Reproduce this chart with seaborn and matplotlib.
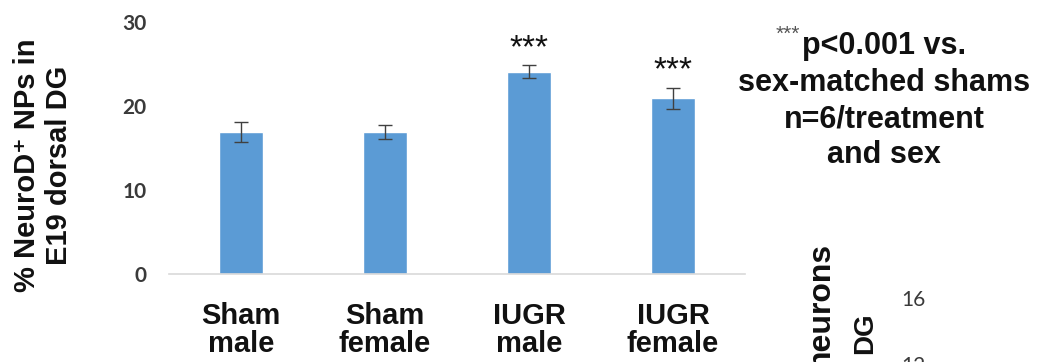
import matplotlib
matplotlib.use("Agg")
import matplotlib.pyplot as plt
import seaborn as sns
import pandas as pd

# Group means and SEM for NeuroD+ neural progenitors in E19 dorsal DG
groups = ["Sham\nmale", "Sham\nfemale", "IUGR\nmale", "IUGR\nfemale"]
means = [16.9, 16.9, 24.1, 20.9]
sems = [1.2, 0.8, 0.8, 1.3]
stars = ["", "", "***", "***"]
y_ticks = [0, 10, 20, 30]

sns.set_theme(style="white")
plt.rcParams["font.family"] = ["Liberation Sans", "DejaVu Sans"]

BAR_BLUE = "#5B9BD5"
px = 1 / 362  # one pixel in figure height units

fig = plt.figure(figsize=(10.38, 3.62), dpi=100)
ax = fig.add_axes([0.1628, 0.2431, 0.5549, 0.6961])

df = pd.DataFrame({"group": groups, "mean": means})
sns.barplot(data=df, x="group", y="mean", color=BAR_BLUE, width=0.3,
            saturation=1, ax=ax, errorbar=None)
ax.errorbar(range(len(groups)), means, yerr=sems, fmt="none",
            ecolor="#404040", elinewidth=1.0, capsize=5, capthick=1.0)

for i, (m, e, s) in enumerate(zip(means, sems, stars)):
    if s:
        ax.text(i, m + e + 0.1, s, ha="center", va="bottom",
                fontsize=24, color="#111111")

ax.set_ylim(0, 30)
ax.set_xlim(-0.5, len(groups) - 0.5)
ax.set_yticks(y_ticks)
ax.set_yticklabels([str(t) for t in y_ticks], fontsize=15,
                   fontweight="bold", color="#3A3A3A", family="Lato")
ax.tick_params(axis="y", length=0, pad=16)
ax.tick_params(axis="x", length=0, pad=20)
for lbl in ax.get_xticklabels():
    lbl.set_fontsize(21)
    lbl.set_fontweight("bold")
    lbl.set_color("#111111")
    lbl.set_linespacing(1.0)
ax.set_xlabel("")
ax.set_ylabel("")
for side in ("top", "right", "left"):
    ax.spines[side].set_visible(False)
ax.spines["bottom"].set_color("#D9D9D9")
ax.spines["bottom"].set_linewidth(1.2)

fig.text(43 / 1038, 1 - 165 * px, "% NeuroD\u207a NPs in\nE19 dorsal DG",
         rotation=90, ha="center", va="center", fontsize=21,
         fontweight="bold", color="#111111", linespacing=1.15)

# Significance note
fig.text(800 / 1038, 1 - 34 * px, "***", ha="right", va="center",
         fontsize=15, color="#555555")
fig.text(802 / 1038, 1 - 46 * px, "p<0.001 vs.", ha="left", va="center",
         fontsize=22, fontweight="bold", color="#111111")
fig.text(884 / 1038, 1 - 119 * px,
         "sex-matched shams\nn=6/treatment\nand sex",
         ha="center", va="center", fontsize=22, fontweight="bold",
         color="#111111", linespacing=1.25)

# Edge of the adjacent panel
fig.text(821 / 1038, 1 - 242 * px, "neurons", rotation=90, ha="center",
         va="top", fontsize=23, fontweight="bold", color="#111111")
fig.text(865 / 1038, 1 - 312 * px, "DG", rotation=90, ha="center",
         va="top", fontsize=20, fontweight="bold", color="#111111")
fig.text(926 / 1038, 1 - 300 * px, "16", ha="right", va="center",
         fontsize=15, color="#3A3A3A", family="Lato")
fig.text(926 / 1038, 1 - 366 * px, "12", ha="right", va="center",
         fontsize=15, color="#3A3A3A", family="Lato")

fig.savefig("out.png", dpi=100)
